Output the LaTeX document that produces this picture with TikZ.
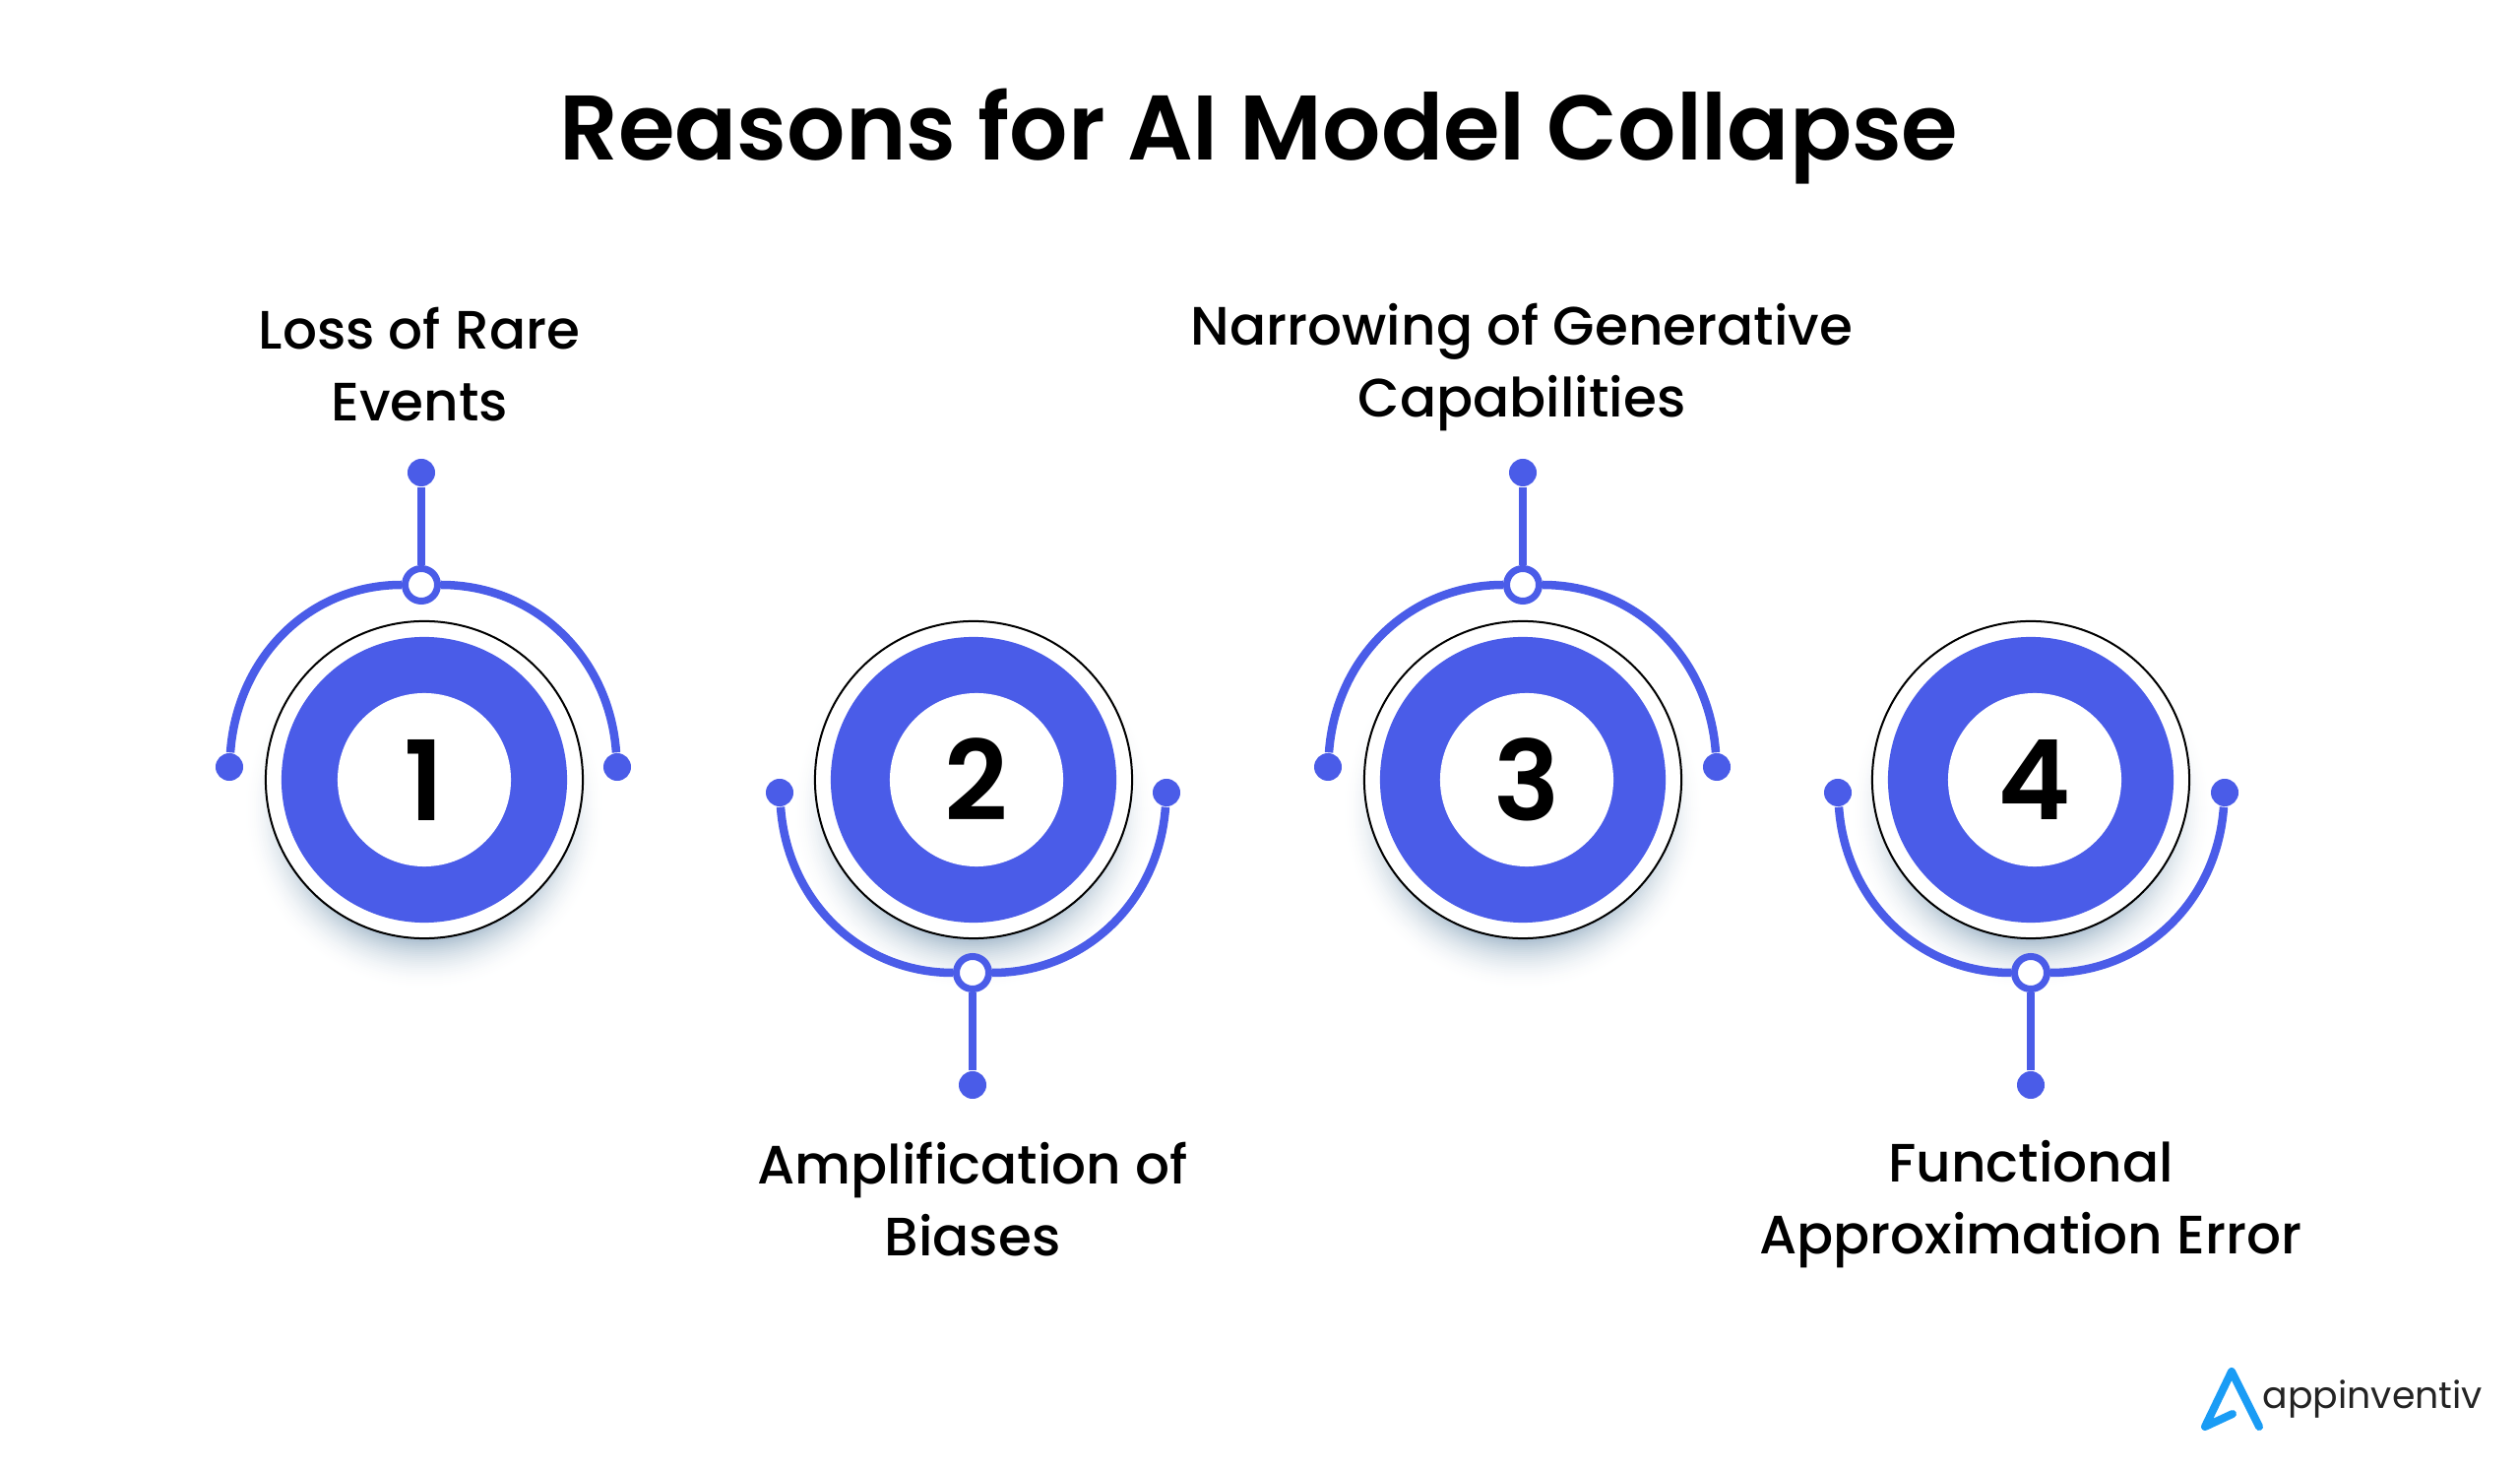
\documentclass[tikz,border=0pt]{standalone}
\usepackage{fontspec}
\setmainfont{Poppins}[UprightFont=*-Medium,BoldFont=*-SemiBold]
\newfontfamily\logofont{Poppins}
\definecolor{ringblue}{HTML}{4A5CE8}
\definecolor{logoblue}{HTML}{1A9CF5}
\definecolor{logotext}{HTML}{232323}
\definecolor{glowdark}{rgb}{0.70,0.77,0.83}
% soft shadow as a stack of discs, palest first
\newcommand{\dropglow}[1]{%
  \foreach \r in {185,183,...,135}{%
    \pgfmathsetmacro{\p}{100*(1-(\r-135)/50)^2}%
    \fill[glowdark!\p!white] (#1) circle (\r*0.01cm);
  }}
\tikzset{
  rim/.style={circle,draw=black,line width=0.02cm,fill=white,inner sep=0pt,minimum size=3.22cm},
  band/.style={circle,fill=ringblue,inner sep=0pt,minimum size=2.9cm},
  core/.style={circle,fill=white,inner sep=0pt,minimum size=1.76cm,font=\fontsize{32}{36}\selectfont\bfseries},
  link/.style={draw=ringblue,line width=0.085cm},
  enddot/.style={circle,fill=ringblue,inner sep=0pt,minimum size=0.28cm},
  opendot/.style={circle,draw=ringblue,fill=white,line width=0.07cm,inner sep=0pt,minimum size=0.33cm},
  label/.style={align=center,font=\fontsize{15.6}{20.8}\selectfont},
}
\begin{document}
\begin{tikzpicture}[x=0.01cm,y=-0.01cm]
\path[use as bounding box] (0,0) rectangle (2560,1492);
\node[anchor=base,font=\fontsize{26.5}{32}\selectfont\bfseries] (title) at (1279,163) {Reasons for AI Model Collapse};
% circle 1
\coordinate (g1) at (431,822);
\dropglow{g1}
\node[rim] (r1) at (431,792) {};
\node[band] (b1) at (431,792) {};
\node[core] (c1) at (431,792) {1};
\node[enddot] (l1) at (233,779) {};
\node[enddot] (e1) at (627,779) {};
\node[opendot] (o1) at (428,594) {};
\node[enddot] (d1) at (428,480) {};
\draw[link] (l1) to[out=86,in=180] (o1);
\draw[link] (o1) to[out=0,in=94] (e1);
\draw[link] (o1) -- (d1);
\node[label] (t1) at (426,370) {Loss of Rare\\Events};
% circle 2
\coordinate (g2) at (989,822);
\dropglow{g2}
\node[rim] (r2) at (989,792) {};
\node[band] (b2) at (989,792) {};
\node[core] (c2) at (992,792) {2};
\node[enddot] (l2) at (792,805) {};
\node[enddot] (e2) at (1185,805) {};
\node[opendot] (o2) at (988,988) {};
\node[enddot] (d2) at (988,1102) {};
\draw[link] (l2) to[out=-86,in=180] (o2);
\draw[link] (o2) to[out=0,in=-94] (e2);
\draw[link] (o2) -- (d2);
\node[label] (t2) at (988,1218) {Amplification of\\Biases};
% circle 3
\coordinate (g3) at (1547,822);
\dropglow{g3}
\node[rim] (r3) at (1547,792) {};
\node[band] (b3) at (1547,792) {};
\node[core] (c3) at (1551,792) {3};
\node[enddot] (l3) at (1349,779) {};
\node[enddot] (e3) at (1744,779) {};
\node[opendot] (o3) at (1547,594) {};
\node[enddot] (d3) at (1547,480) {};
\draw[link] (l3) to[out=86,in=180] (o3);
\draw[link] (o3) to[out=0,in=94] (e3);
\draw[link] (o3) -- (d3);
\node[label] (t3) at (1546,373) {Narrowing of Generative\\Capabilities};
% circle 4
\coordinate (g4) at (2063,822);
\dropglow{g4}
\node[rim] (r4) at (2063,792) {};
\node[band] (b4) at (2063,792) {};
\node[core] (c4) at (2067,792) {4};
\node[enddot] (l4) at (1867,805) {};
\node[enddot] (e4) at (2260,805) {};
\node[opendot] (o4) at (2063,988) {};
\node[enddot] (d4) at (2063,1102) {};
\draw[link] (l4) to[out=-86,in=180] (o4);
\draw[link] (o4) to[out=0,in=-94] (e4);
\draw[link] (o4) -- (d4);
\node[label] (t4) at (2063,1223) {Functional\\Approximation Error};
% logo
\draw[logoblue,line width=0.08cm,line cap=round,line join=round] (2295,1449) -- (2267,1393) -- (2240,1449) -- (2268,1436);
\node[anchor=base west,inner sep=0pt,text=logotext,font=\logofont\fontsize{10.75}{13}\selectfont] (logo) at (2298,1430) {appinventiv};
\end{tikzpicture}
\end{document}
